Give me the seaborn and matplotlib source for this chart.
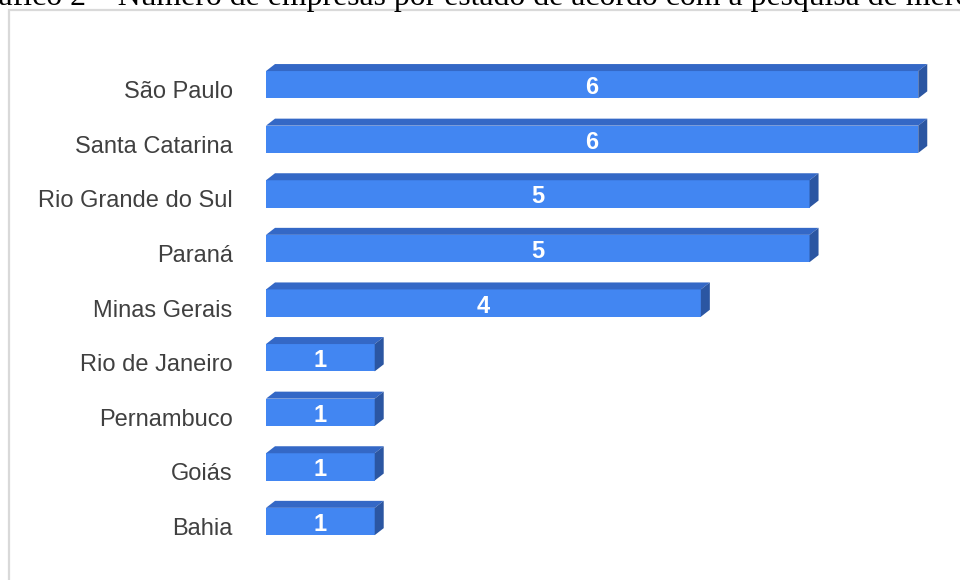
import matplotlib
matplotlib.use("Agg")
import matplotlib.pyplot as plt
from matplotlib.patches import Polygon, Rectangle
from matplotlib.transforms import ScaledTranslation
import seaborn as sns
import pandas as pd

estados = ["São Paulo", "Santa Catarina", "Rio Grande do Sul", "Paraná",
           "Minas Gerais", "Rio de Janeiro", "Pernambuco", "Goiás", "Bahia"]
empresas = [6, 6, 5, 5, 4, 1, 1, 1, 1]
titulo = "Gráfico 2 – Número de empresas por estado de acordo com a pesquisa de mercado"

FRONT = "#4286F2"
TOP = "#3468C6"
SIDE = "#2B56A2"

sns.set_theme(style="white")
plt.rcParams["font.family"] = ["Liberation Sans", "DejaVu Sans"]

W, H = 960, 580
fig = plt.figure(figsize=(W / 100, H / 100), dpi=100)
ax_l, ax_r = 266, 940
ax_t, ax_b = 57.4, 548.8
ax = fig.add_axes([ax_l / W, 1 - ax_b / H, (ax_r - ax_l) / W, (ax_b - ax_t) / H])

df = pd.DataFrame({"estado": estados, "empresas": empresas})
sns.barplot(data=df, x="empresas", y="estado", orient="h", color=FRONT,
            saturation=1, width=0.5, ax=ax, linewidth=0)

xmax = 6.2
ax.set_xlim(0, xmax)
ax.set_ylim(len(estados) - 0.5, -0.5)

# oblique depth of the 3D bars, in pixels
depth_x, depth_y = 9, 7
ppx = (ax_r - ax_l) / xmax
ppy = (ax_b - ax_t) / len(estados)
dx, dy = depth_x / ppx, depth_y / ppy

for bar in ax.patches:
    x0, y0 = bar.get_x(), bar.get_y()
    w, h = bar.get_width(), bar.get_height()
    x1 = x0 + w
    ytop, ybot = y0, y0 + h  # y axis inverted: y0 is the upper edge
    top = Polygon([(x0, ytop), (x1, ytop), (x1 + dx, ytop - dy), (x0 + dx, ytop - dy)],
                  closed=True, facecolor=TOP, edgecolor="none", clip_on=False)
    side = Polygon([(x1, ytop), (x1 + dx, ytop - dy), (x1 + dx, ybot - dy), (x1, ybot)],
                   closed=True, facecolor=SIDE, edgecolor="none", clip_on=False)
    ax.add_patch(top)
    ax.add_patch(side)

valores = ax.bar_label(ax.containers[0], label_type="center", color="white",
                       fontweight="bold", fontsize=17)
for t in valores:
    t.xyann = (0, -2.2)  # nudge value labels slightly down (points)

ax.set_xlabel("")
ax.set_ylabel("")
ax.set_xticks([])
ax.tick_params(axis="y", length=0, pad=24, labelsize=17, labelcolor="#404040")
shift_lbl = ScaledTranslation(0, -5 / 100, fig.dpi_scale_trans)
for lbl in ax.get_yticklabels():
    lbl.set_transform(lbl.get_transform() + shift_lbl)
for s in ax.spines.values():
    s.set_visible(False)

# outer chart border
fig.patches.append(Rectangle((9 / W, -0.05), 1.05, 1 - 10 / H + 0.05,
                             transform=fig.transFigure, fill=False,
                             edgecolor="#d9d9d9", linewidth=1.6))

fig.text(-35 / W, 1 - 5.5 / H, titulo, family=["Liberation Serif", "DejaVu Serif"],
         fontsize=22.9, color="black", ha="left", va="baseline")

fig.savefig("out.png", dpi=100)
